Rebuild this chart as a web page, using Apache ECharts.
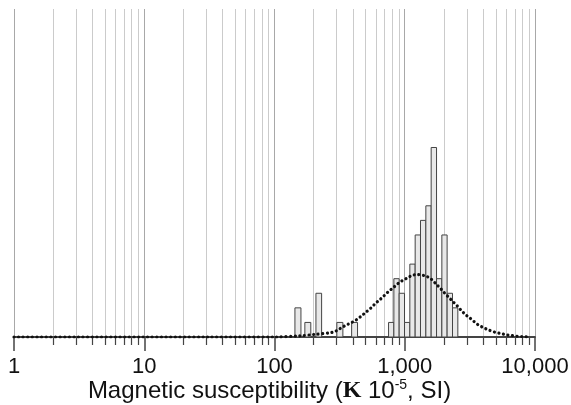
<!DOCTYPE html>
<html>
<head>
<meta charset="utf-8">
<script src="https://cdn.jsdelivr.net/npm/echarts@6/dist/echarts.min.js"></script>
<style>
  html, body { margin: 0; background: #fff; }
  #chart { width: 571px; height: 405px; }
</style>
</head>
<body>
<div id="chart"></div>
<script>
// histogram bins: lower edge, upper edge, count
const binLow = [143.5, 171, 208, 301, 391, 751, 825, 906, 996, 1094, 1202, 1321, 1452, 1595, 1754, 1927, 2115, 2326];
const binHigh = [159.6, 190, 230, 335, 434, 825, 906, 996, 1094, 1202, 1321, 1452, 1595, 1754, 1927, 2115, 2326, 2556];
const binCount = [2, 1, 3, 1, 1, 1, 4, 3, 1, 5, 7, 8, 9, 13, 4, 7, 3, 2];

// dotted fit curve
const curveX = [1, 3, 10, 30, 100, 157, 204, 279, 303, 333, 361, 393, 427, 469, 509, 550, 593, 644, 695, 752, 815, 885,
  962, 1042, 1127, 1233, 1452, 1585, 1734, 1901, 2042, 2193, 2350, 2523, 2710, 2931, 3162, 3412, 3681, 4027, 4416,
  4887, 5370, 5970, 6607, 7295, 8110, 9016];
const curveY = [0, 0, 0, 0, 0, 0.08, 0.18, 0.32, 0.46, 0.68, 0.85, 1.01, 1.19, 1.47, 1.74, 1.99, 2.29, 2.56, 2.84, 3.13,
  3.38, 3.66, 3.88, 4.04, 4.21, 4.29, 4.18, 4.0, 3.65, 3.29, 2.97, 2.70, 2.42, 2.15, 1.83, 1.53, 1.30, 1.05, 0.82, 0.64,
  0.48, 0.34, 0.25, 0.16, 0.10, 0.05, 0.03, 0];

const majorTicks = [1, 10, 100, 1000, 10000];
const minorTicks = [2, 3, 4, 5, 6, 7, 8, 9, 20, 30, 40, 50, 60, 70, 80, 90,
  200, 300, 400, 500, 600, 700, 800, 900, 2000, 3000, 4000, 5000, 6000, 7000, 8000, 9000];

const chart = echarts.init(document.getElementById('chart'));
const font = 'Liberation Sans, Arial, sans-serif';

chart.setOption({
  animation: false,
  grid: { left: 14, right: 36, top: 9, bottom: 68, outerBoundsMode: 'none' },
  xAxis: [
    {
      type: 'log',
      logBase: 10,
      min: 1,
      max: 10000,
      position: 'bottom',
      axisLine: { show: true, lineStyle: { color: '#444', width: 1.8 } },
      axisTick: { customValues: majorTicks, length: 14, lineStyle: { color: '#444', width: 1.5 } },
      axisLabel: {
        customValues: majorTicks,
        margin: 19,
        fontSize: 22,
        color: '#111',
        fontFamily: font,
        formatter: (v) => Math.round(v).toLocaleString('en-US'),
      },
      splitLine: { show: true, lineStyle: { color: '#a8a8a8', width: 1 } },
      name: 'Magnetic susceptibility ({k|Κ} 10{sup|-5}, SI)',
      nameLocation: 'middle',
      nameGap: 41,
      nameMoveOverlap: false,
      nameTextStyle: {
        fontSize: 24,
        color: '#111',
        fontFamily: font,
        lineHeight: 26,
        padding: [0, 10, 0, 0],
        rich: {
          k: { fontSize: 24, fontWeight: 'bold', fontFamily: 'Liberation Serif, serif', color: '#111', lineHeight: 26 },
          sup: { fontSize: 14, color: '#111', fontFamily: font, verticalAlign: 'top', lineHeight: 16 },
        },
      },
    },
    {
      type: 'log',
      logBase: 10,
      min: 1,
      max: 10000,
      position: 'bottom',
      axisLine: { show: false },
      axisTick: { customValues: minorTicks, length: 8, lineStyle: { color: '#444', width: 1.2 } },
      axisLabel: { show: false },
      splitLine: { show: true, lineStyle: { color: '#cbcbcb', width: 1 } },
    },
  ],
  yAxis: { type: 'value', min: 0, max: 22.5, show: false },
  series: [
    {
      type: 'custom',
      xAxisIndex: 0,
      data: binLow.map((lo, i) => [lo, binHigh[i], binCount[i]]),
      encode: { x: [0, 1], y: 2 },
      renderItem: (params, api) => {
        const p0 = api.coord([api.value(0), api.value(2)]);
        const p1 = api.coord([api.value(1), 0]);
        return {
          type: 'rect',
          shape: { x: p0[0], y: p0[1], width: p1[0] - p0[0], height: p1[1] - p0[1] },
          style: { fill: '#e8e8e8', stroke: '#444', lineWidth: 1 },
        };
      },
      z: 2,
    },
    {
      type: 'line',
      xAxisIndex: 0,
      data: curveX.map((x, i) => [x, curveY[i]]),
      showSymbol: false,
      smooth: 0.3,
      lineStyle: { color: '#111', width: 3.2, type: [0.01, 4.6], cap: 'round' },
      z: 5,
    },
  ],
});
</script>
</body>
</html>
